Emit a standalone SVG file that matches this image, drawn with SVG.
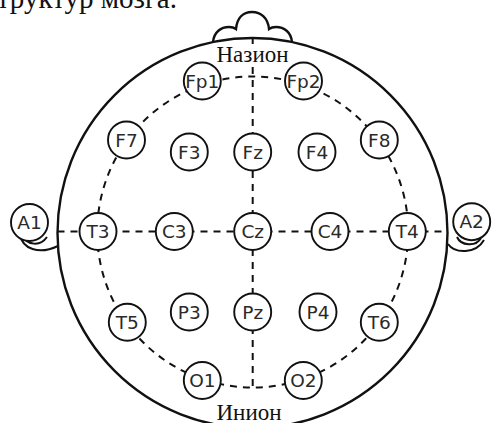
<svg xmlns="http://www.w3.org/2000/svg" width="493" height="423" viewBox="0 0 493 423">
  <style>
    .head { fill: none; stroke: #111; stroke-width: 2.4; }
    .ear { fill: none; stroke: #111; stroke-width: 2; }
    .guide { fill: none; stroke: #111; stroke-width: 2; stroke-dasharray: 7 6; }
    .el circle { fill: #fff; stroke: #111; stroke-width: 1.9; }
    .el text { font-family: "DejaVu Sans", Verdana, sans-serif; font-size: 18.5px; fill: #2a2a2a; text-anchor: middle; }
    .lbl { font-family: "Liberation Serif", "Times New Roman", serif; font-size: 23px; fill: #111; text-anchor: middle; }
  </style>

  <rect width="493" height="423" fill="#fff"/>

  <!-- caption line above the figure -->
  <text x="177" y="8" font-family="Liberation Serif, Times New Roman, serif" font-size="29" text-anchor="end" fill="#111">структур мозга.</text>

  <!-- head outline, nose and ears -->
  <g id="head">
    <path class="head" d="M213,42 C214,32 221,27 229,27 C232,27 234,27.5 236,29 C237,18 243,12 252,12 C261,12 268,18 269,29 C271,27.5 273,27 276,27 C284,27 291,32 292,42"/>
    <circle class="head" cx="252.5" cy="233" r="195"/>
    <path class="ear" d="M20,234 C22,249 39,255 58,246"/>
    <path class="ear" d="M23,236 C27,245 40,247 47,237"/>
    <path class="ear" d="M448,244 C455,254 476,254 484,240"/>
    <path class="ear" d="M457,237 C461,246 476,247 481,238"/>
  </g>

  <!-- dashed guide lines -->
  <g id="connectors">
    <circle class="guide" cx="252.7" cy="232" r="155.5"/>
    <line class="guide" x1="57.5" y1="231.5" x2="447.5" y2="231.5"/>
    <line class="guide" x1="252.7" y1="38" x2="252.7" y2="44"/>
    <line class="guide" x1="252.7" y1="67" x2="252.7" y2="390"/>
  </g>

  <text class="lbl" x="252.5" y="62">Назион</text>
  <text class="lbl" x="249" y="420">Инион</text>

  <!-- electrodes -->
  <g id="Fp1" class="el"><circle cx="202.3" cy="81" r="18.5"/><text x="202.3" y="87.5">Fp1</text></g>
  <g id="Fp2" class="el"><circle cx="303.5" cy="81" r="18.5"/><text x="303.5" y="87.5">Fp2</text></g>
  <g id="F7" class="el"><circle cx="126.5" cy="140" r="18.5"/><text x="126.5" y="146.5">F7</text></g>
  <g id="F3" class="el"><circle cx="189.3" cy="152" r="18.5"/><text x="189.3" y="158.5">F3</text></g>
  <g id="Fz" class="el"><circle cx="252.7" cy="152" r="18.5"/><text x="252.7" y="158.5">Fz</text></g>
  <g id="F4" class="el"><circle cx="317" cy="152" r="18.5"/><text x="317" y="158.5">F4</text></g>
  <g id="F8" class="el"><circle cx="379.3" cy="140" r="18.5"/><text x="379.3" y="146.5">F8</text></g>
  <g id="A1" class="el"><circle cx="29.5" cy="222.5" r="18.5"/><text x="29.5" y="229">A1</text></g>
  <g id="T3" class="el"><circle cx="98" cy="231.5" r="18.5"/><text x="98" y="238">T3</text></g>
  <g id="C3" class="el"><circle cx="174.3" cy="231.5" r="18.5"/><text x="174.3" y="238">C3</text></g>
  <g id="Cz" class="el"><circle cx="252.7" cy="231.5" r="18.5"/><text x="252.7" y="238">Cz</text></g>
  <g id="C4" class="el"><circle cx="330" cy="231.5" r="18.5"/><text x="330" y="238">C4</text></g>
  <g id="T4" class="el"><circle cx="407.3" cy="231.5" r="18.5"/><text x="407.3" y="238">T4</text></g>
  <g id="A2" class="el"><circle cx="471.7" cy="221.7" r="18.5"/><text x="471.7" y="228.2">A2</text></g>
  <g id="T5" class="el"><circle cx="127.3" cy="322.3" r="18.5"/><text x="127.3" y="328.8">T5</text></g>
  <g id="P3" class="el"><circle cx="189.3" cy="312" r="18.5"/><text x="189.3" y="318.5">P3</text></g>
  <g id="Pz" class="el"><circle cx="252.7" cy="312" r="18.5"/><text x="252.7" y="318.5">Pz</text></g>
  <g id="P4" class="el"><circle cx="318" cy="312" r="18.5"/><text x="318" y="318.5">P4</text></g>
  <g id="T6" class="el"><circle cx="379.3" cy="322.3" r="18.5"/><text x="379.3" y="328.8">T6</text></g>
  <g id="O1" class="el"><circle cx="202.3" cy="380.5" r="18.5"/><text x="202.3" y="387">O1</text></g>
  <g id="O2" class="el"><circle cx="303.3" cy="380.5" r="18.5"/><text x="303.3" y="387">O2</text></g>
</svg>
